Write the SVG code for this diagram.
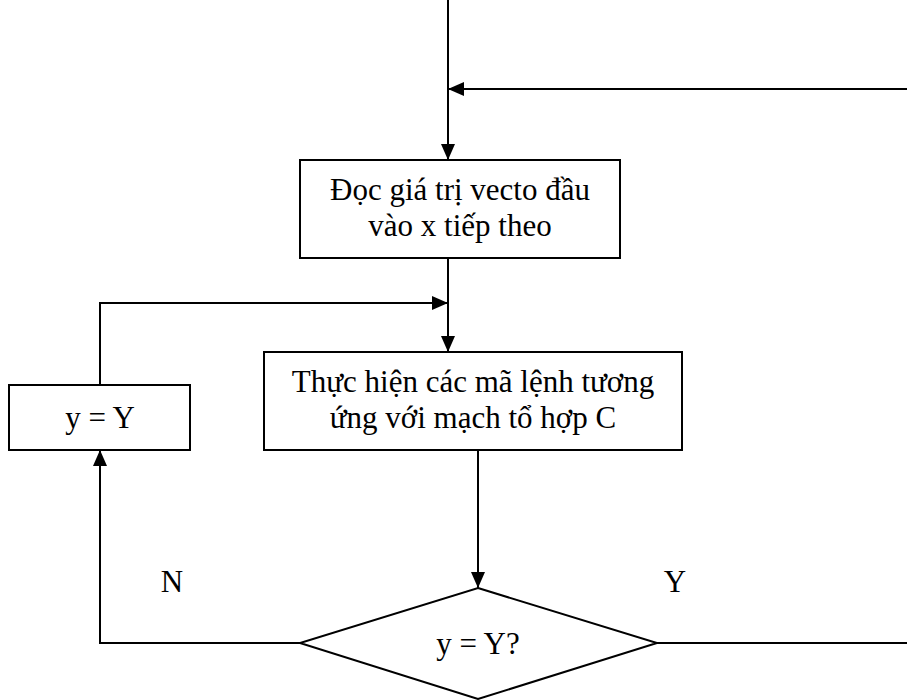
<svg xmlns="http://www.w3.org/2000/svg" width="907" height="700" viewBox="0 0 907 700">
  <style>
    .box { fill: #ffffff; stroke: #000000; stroke-width: 2; }
    .wire { fill: none; stroke: #000000; stroke-width: 2; }
    .lbl { font-family: "Liberation Serif", "Times New Roman", serif; font-size: 31px; fill: #000000; text-anchor: middle; }
  </style>
  <defs>
    <marker id="arrow" viewBox="0 0 16 14" refX="16" refY="7" markerWidth="16" markerHeight="14" markerUnits="userSpaceOnUse" orient="auto">
      <path d="M0,0 L16,7 L0,14 Z" fill="#000000"/>
    </marker>
  </defs>

  <g id="connectors">
    <!-- entry line from the top -->
    <line class="wire" x1="448" y1="0" x2="448" y2="160" marker-end="url(#arrow)"/>
    <!-- return path from the right -->
    <line class="wire" x1="907" y1="89" x2="448" y2="89" marker-end="url(#arrow)"/>
    <!-- read box to execute box -->
    <line class="wire" x1="448" y1="258" x2="448" y2="352" marker-end="url(#arrow)"/>
    <!-- loop back from y = Y box -->
    <polyline class="wire" points="100,385 100,303 448,303" marker-end="url(#arrow)"/>
    <!-- execute box to decision -->
    <line class="wire" x1="478" y1="450" x2="478" y2="588" marker-end="url(#arrow)"/>
    <!-- N branch -->
    <polyline class="wire" points="300,643 100,643 100,450" marker-end="url(#arrow)"/>
    <!-- Y branch -->
    <line class="wire" x1="657" y1="643" x2="907" y2="643"/>
  </g>

  <g id="read-input">
    <rect class="box" x="300" y="160" width="320" height="98"/>
    <text class="lbl" x="460" y="200">Đọc giá trị vecto đầu</text>
    <text class="lbl" x="460" y="236">vào x tiếp theo</text>
  </g>

  <g id="execute-c">
    <rect class="box" x="264" y="352" width="418" height="98"/>
    <text class="lbl" x="473" y="392">Thực hiện các mã lệnh tương</text>
    <text class="lbl" x="473" y="428">ứng với mạch tổ hợp C</text>
  </g>

  <g id="assign-y">
    <rect class="box" x="9" y="385" width="181" height="65"/>
    <text class="lbl" x="100" y="428">y = Y</text>
  </g>

  <g id="decision">
    <polygon class="box" points="478,588 657,643 478,699 300,643"/>
    <text class="lbl" x="478" y="654">y = Y?</text>
  </g>

  <g id="branch-labels">
    <text class="lbl" x="172" y="592">N</text>
    <text class="lbl" x="675" y="592">Y</text>
  </g>
</svg>
